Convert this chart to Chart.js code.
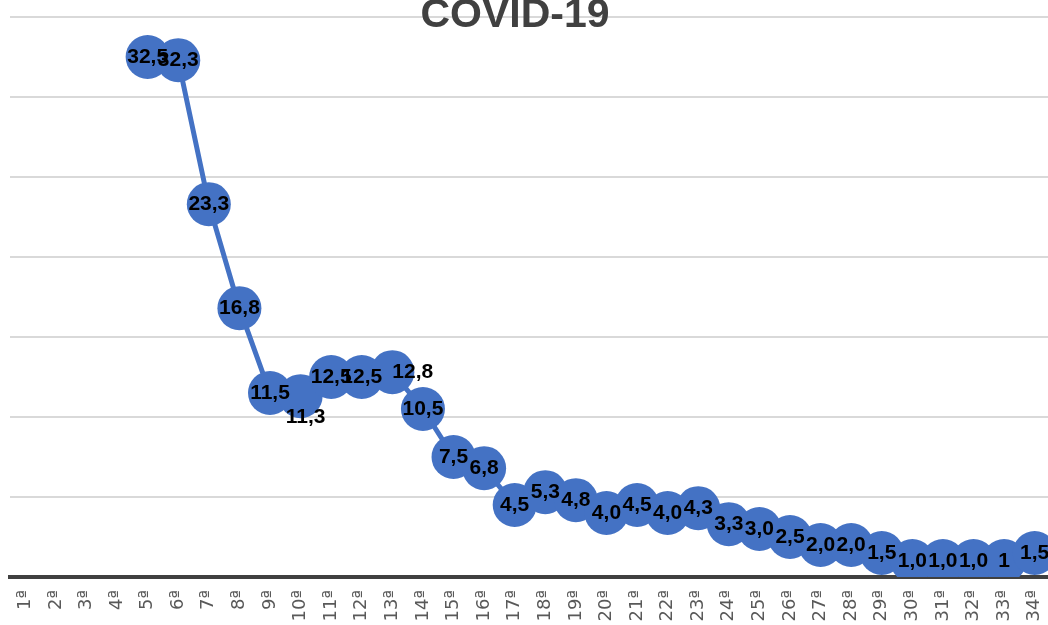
<!DOCTYPE html>
<html>
<head>
<meta charset="utf-8">
<script src="https://cdn.jsdelivr.net/npm/chart.js@4/dist/chart.umd.min.js"></script>
<style>
  html, body { margin: 0; padding: 0; background: #fff; overflow: hidden; }
  body { width: 1048px; height: 625px; position: relative; }
  #wrap { position: absolute; left: 0; top: 0; width: 1050px; height: 637px; }
  #title {
    position: absolute; left: 0; top: -10px; width: 1030px; margin: 0;
    text-align: center; font: bold 41px 'Liberation Sans', Arial, sans-serif;
    color: #404040; pointer-events: none; z-index: 2;
  }
</style>
</head>
<body>
<div id="wrap"><canvas id="chart"></canvas></div>
<h1 id="title">COVID-19</h1>
<script>
// weeks 1ª..34ª
const weeks = ['1ª','2ª','3ª','4ª','5ª','6ª','7ª','8ª','9ª','10ª','11ª','12ª','13ª','14ª','15ª','16ª','17ª',
  '18ª','19ª','20ª','21ª','22ª','23ª','24ª','25ª','26ª','27ª','28ª','29ª','30ª','31ª','32ª','33ª','34ª'];

const values = [null, null, null, null, 32.5, 32.3, 23.3, 16.8, 11.5, 11.3, 12.5, 12.5, 12.8, 10.5, 7.5, 6.8,
  4.5, 5.3, 4.8, 4.0, 4.5, 4.0, 4.3, 3.3, 3.0, 2.5, 2.0, 2.0, 1.5, 1.0, 1.0, 1.0, 1, 1.5];

const valueLabels = ['', '', '', '', '32,5', '32,3', '23,3', '16,8', '11,5', '11,3', '12,5', '12,5', '12,8', '10,5',
  '7,5', '6,8', '4,5', '5,3', '4,8', '4,0', '4,5', '4,0', '4,3', '3,3', '3,0', '2,5', '2,0', '2,0', '1,5',
  '1,0', '1,0', '1,0', '1', '1,5'];

const yTicks = [0, 5, 10, 15, 20, 25, 30, 35];

const BLUE = '#4472C4';

// draws value labels on top of the markers
const pointLabels = {
  id: 'pointLabels',
  afterDatasetsDraw(chart, args, opts) {
    const ctx = chart.ctx;
    const meta = chart.getDatasetMeta(0);
    ctx.save();
    ctx.font = opts.font;
    ctx.fillStyle = opts.color;
    ctx.textBaseline = 'middle';
    meta.data.forEach((pt, i) => {
      if (values[i] == null) return;
      const place = opts.placement[i] || 'center';
      let x = pt.x, y = pt.y;
      ctx.textAlign = 'center';
      if (place === 'below') { y += 21; x += 5; }
      if (place === 'right') { ctx.textAlign = 'left'; }
      ctx.fillText(valueLabels[i], x, y);
    });
    ctx.restore();
  }
};

new Chart(document.getElementById('chart'), {
  type: 'line',
  data: {
    labels: weeks,
    datasets: [{
      data: values,
      borderColor: BLUE,
      backgroundColor: BLUE,
      borderWidth: 5,
      pointRadius: 22,
      pointHoverRadius: 22,
      pointBackgroundColor: BLUE,
      pointBorderColor: BLUE,
      pointBorderWidth: 0,
      tension: 0,
      spanGaps: false
    }]
  },
  options: {
    responsive: true,
    maintainAspectRatio: false,
    animation: false,
    layout: { autoPadding: false, padding: { left: 10, right: 0, top: 17, bottom: 0 } },
    plugins: {
      legend: { display: false },
      tooltip: { enabled: false },
      pointLabels: {
        font: "bold 21px 'Liberation Sans', Arial, sans-serif",
        color: '#000',
        placement: { 9: 'below', 12: 'right' }
      }
    },
    scales: {
      x: {
        offset: true,
        grid: { display: false, drawTicks: false },
        border: { display: true, color: '#404040', width: 4 },
        ticks: {
          color: '#595959',
          font: { family: "'DejaVu Sans', sans-serif", size: 18 },
          minRotation: 90, maxRotation: 90,
          padding: 13,
          autoSkip: false
        },
        afterFit: s => { s.height = 60; s.paddingLeft = 0; s.paddingRight = 0; }
      },
      y: {
        min: 0, max: 35,
        afterBuildTicks: s => { s.ticks = yTicks.map(v => ({ value: v })); },
        ticks: { display: false },
        grid: { color: '#d9d9d9', lineWidth: 2, drawTicks: false },
        border: { display: false },
        afterFit: s => { s.width = 0; }
      }
    }
  },
  plugins: [pointLabels]
});
</script>
</body>
</html>
